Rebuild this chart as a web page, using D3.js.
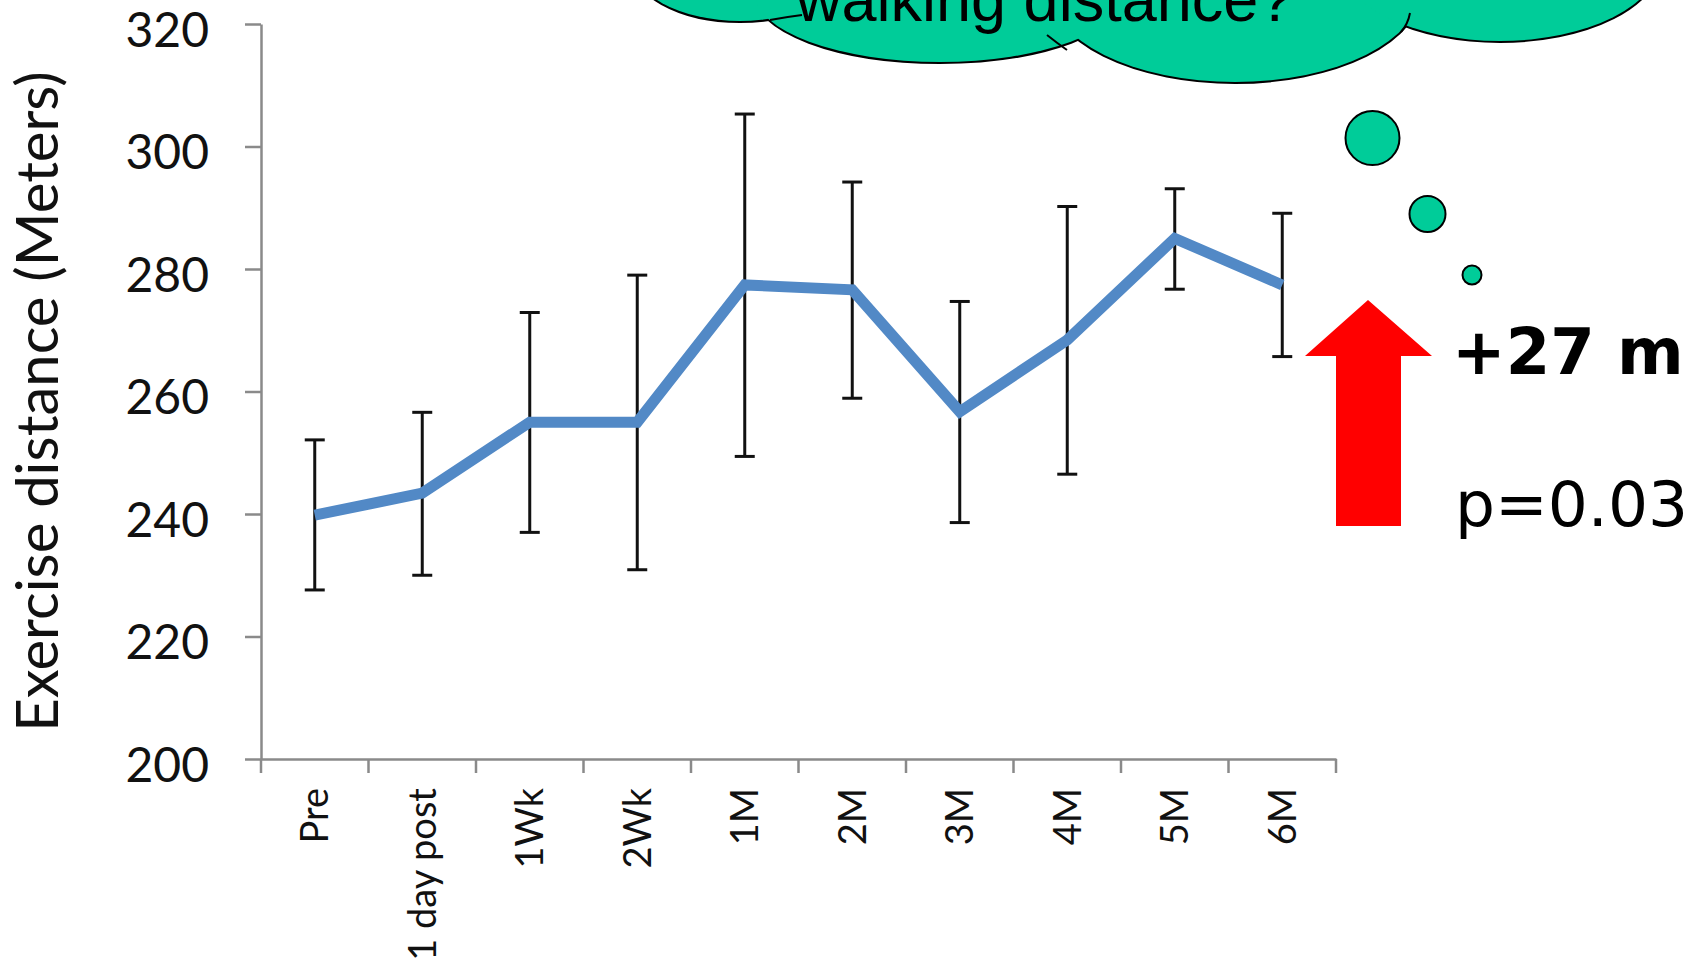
<!DOCTYPE html>
<html>
<head>
<meta charset="utf-8">
<script src="https://cdn.jsdelivr.net/npm/d3@7"></script>
<style>
  body { margin: 0; background: #fff; }
  svg { display: block; }
</style>
</head>
<body>
<div id="chart"></div>
<script>
const categories = ['Pre', '1 day post', '1Wk', '2Wk', '1M', '2M', '3M', '4M', '5M', '6M'];
const means = [239.8, 243.4, 255.0, 255.0, 277.4, 276.6, 256.7, 268.4, 285.0, 277.4];
const upper = [252.1, 256.6, 272.9, 279.0, 305.3, 294.2, 274.7, 290.2, 293.1, 289.1];
const lower = [227.6, 230.0, 237.0, 230.9, 249.4, 258.9, 238.6, 246.5, 276.7, 265.7];
const yTicks = [200, 220, 240, 260, 280, 300, 320];
const yTitle = 'Exercise distance (Meters)';
const bubbleText = 'walking distance?';
const gainText = '+27 m';
const pText = 'p=0.03';

const width = 1692, height = 963;

const data = categories.map((c, i) => ({ cat: c, mean: means[i], hi: upper[i], lo: lower[i] }));

const svg = d3.select('#chart').append('svg')
  .attr('width', width)
  .attr('height', height);

svg.append('rect').attr('width', width).attr('height', height).attr('fill', '#fff');

let x = d3.scaleBand()
  .domain(categories)
  .range([261, 1336]);

let y = d3.scaleLinear()
  .domain([200, 320])
  .range([759, 24]);

const axisColor = '#8a8a8a';

// y axis
const yAxis = svg.append('g')
  .attr('transform', 'translate(' + x.range()[0] + ',0)')
  .call(d3.axisLeft(y).tickValues(yTicks).tickSize(16).tickSizeOuter(0).tickPadding(36))

yAxis.select('.domain').attr('stroke', axisColor).attr('stroke-width', 2.5)
yAxis.selectAll('.tick line').attr('stroke', axisColor).attr('stroke-width', 2.5)
yAxis.selectAll('.tick text')
  .attr('fill', '#111')
  .attr('dy', '0.46em')
  .style('font-family', 'Lato')
  .style('font-size', '48px')

// x axis
const xAxis = svg.append('g')
  .attr('transform', 'translate(0,' + y(200) + ')')
  .call(d3.axisBottom(x).tickSize(0).tickSizeOuter(0))

xAxis.select('.domain').attr('stroke', axisColor).attr('stroke-width', 2.5)

xAxis.selectAll('.tick text')
  .attr('fill', '#111')
  .attr('transform', 'rotate(-90)')
  .attr('text-anchor', 'end')
  .attr('x', -29)
  .attr('y', 0)
  .attr('dy', '0.36em')
  .style('font-family', 'Lato')
  .style('font-size', '38px')

// boundary ticks between categories
const edges = categories.map(c => x(c)).concat([x.range()[1]]);

xAxis.selectAll('.edge')
  .data(edges)
  .enter()
  .append('line')
  .attr('class', 'edge')
  .attr('x1', d => d)
  .attr('x2', d => d)
  .attr('y1', 0)
  .attr('y2', 14)
  .attr('stroke', axisColor)
  .attr('stroke-width', 2.5)

// y title
svg.append('text')
  .attr('transform', 'translate(58,' + ((y(200) + y(320)) / 2 + 10) + ') rotate(-90)')
  .attr('text-anchor', 'middle')
  .style('font-family', 'Lato')
  .style('font-size', '58px')
  .attr('fill', '#111')
  .text(yTitle)

const cx = d => x(d.cat) + x.bandwidth() / 2;

// error bars
const err = svg.append('g');

err.selectAll('.bar')
  .data(data)
  .enter()
  .append('line')
  .attr('x1', cx).attr('x2', cx)
  .attr('y1', d => y(d.hi)).attr('y2', d => y(d.lo))
  .attr('stroke', '#111').attr('stroke-width', 3)

err.selectAll('.capHi')
  .data(data)
  .enter()
  .append('line')
  .attr('x1', d => cx(d) - 10).attr('x2', d => cx(d) + 10)
  .attr('y1', d => y(d.hi)).attr('y2', d => y(d.hi))
  .attr('stroke', '#111').attr('stroke-width', 3)

err.selectAll('.capLo')
  .data(data)
  .enter()
  .append('line')
  .attr('x1', d => cx(d) - 10).attr('x2', d => cx(d) + 10)
  .attr('y1', d => y(d.lo)).attr('y2', d => y(d.lo))
  .attr('stroke', '#111').attr('stroke-width', 3)

// mean line
const line = d3.line()
  .x(cx)
  .y(d => y(d.mean));

svg.append('path')
  .datum(data)
  .attr('d', line)
  .attr('fill', 'none')
  .attr('stroke', '#5289c6')
  .attr('stroke-width', 11)
  .attr('stroke-linejoin', 'miter')

// thought cloud
const cloudFill = '#00cc99';
const lobes = [
  { cx: 740, cy: -40, rx: 110, ry: 61 },
  { cx: 940, cy: -7, rx: 185, ry: 69 },
  { cx: 1235, cy: -10, rx: 185, ry: 92 },
  { cx: 1500, cy: -40, rx: 160, ry: 81 }
];

const cloud = svg.append('g');

cloud.selectAll('.lobeStroke')
  .data(lobes)
  .enter()
  .append('ellipse')
  .attr('cx', d => d.cx).attr('cy', d => d.cy)
  .attr('rx', d => d.rx).attr('ry', d => d.ry)
  .attr('fill', cloudFill)
  .attr('stroke', '#000')
  .attr('stroke-width', 4)

cloud.append('ellipse')
  .attr('cx', 1150).attr('cy', -60).attr('rx', 470).attr('ry', 85)
  .attr('fill', cloudFill)

cloud.selectAll('.lobeFill')
  .data(lobes)
  .enter()
  .append('ellipse')
  .attr('cx', d => d.cx).attr('cy', d => d.cy)
  .attr('rx', d => d.rx).attr('ry', d => d.ry)
  .attr('fill', cloudFill)

cloud.selectAll('.stub')
  .data(['M770,20 Q786,17 802,15', 'M1047,35 Q1057,43 1067,50', 'M1410,13 Q1408,24 1401,32'])
  .enter()
  .append('path')
  .attr('d', d => d)
  .attr('fill', 'none')
  .attr('stroke', '#000')
  .attr('stroke-width', 2)

cloud.append('text')
  .attr('x', 796)
  .attr('y', 21)
  .style('font-family', 'Liberation Sans, Arial')
  .style('font-size', '63px')
  .attr('fill', '#000')
  .text(bubbleText)

const bubbles = [
  { cx: 1372.5, cy: 138, r: 27 },
  { cx: 1427.5, cy: 214, r: 18 },
  { cx: 1472, cy: 275, r: 9.5 }
];

svg.selectAll('.bubble')
  .data(bubbles)
  .enter()
  .append('circle')
  .attr('cx', d => d.cx).attr('cy', d => d.cy).attr('r', d => d.r)
  .attr('fill', cloudFill)
  .attr('stroke', '#000')
  .attr('stroke-width', 2)

// red arrow
svg.append('path')
  .attr('d', 'M1368,300 L1432,356 L1401,356 L1401,526 L1336,526 L1336,356 L1305,356 Z')
  .attr('fill', '#ff0000')

svg.append('text')
  .attr('x', 1452).attr('y', 374)
  .style('font-family', 'DejaVu Sans')
  .style('font-weight', 'bold')
  .style('font-size', '64px')
  .attr('fill', '#000')
  .text(gainText)

svg.append('text')
  .attr('x', 1455).attr('y', 526)
  .style('font-family', 'DejaVu Sans')
  .style('font-size', '63px')
  .attr('fill', '#000')
  .text(pText)
</script>
</body>
</html>
